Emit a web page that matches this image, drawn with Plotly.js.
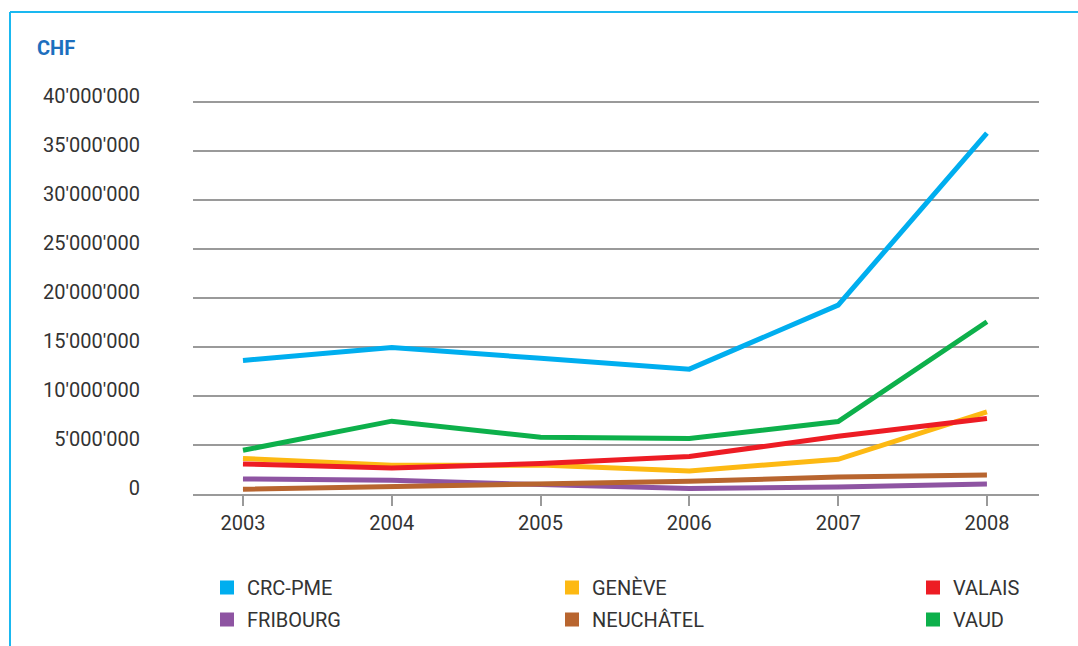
<!DOCTYPE html>
<html>
<head>
<meta charset="utf-8">
<script src="https://cdn.plot.ly/plotly-3.0.1.min.js"></script>
<style>html,body{margin:0;padding:0;background:#fff;}#chart{width:1078px;height:646px;}</style>
</head>
<body>
<div id="chart"></div>
<script>
// ---- data (CHF) ----
const years = [2003, 2004, 2005, 2006, 2007, 2008];
const yearLabels = ["2003", "2004", "2005", "2006", "2007", "2008"];
const crcPme    = [13630000, 14950000, 13840000, 12740000, 19270000, 36810000];
const geneve    = [3620000, 2930000, 2950000, 2350000, 3540000, 8380000];
const valais    = [3060000, 2660000, 3100000, 3820000, 5890000, 7700000];
const fribourg  = [1530000, 1400000, 960000, 550000, 720000, 1020000];
const neuchatel = [480000, 720000, 960000, 1300000, 1730000, 1930000];
const vaud      = [4460000, 7430000, 5790000, 5660000, 7400000, 17570000];

const seriesNames = ["CRC-PME", "GENÈVE", "VALAIS", "FRIBOURG", "NEUCHÂTEL", "VAUD"];
const seriesValues = [crcPme, geneve, valais, fribourg, neuchatel, vaud];
const seriesColors = ["#00aeef", "#fdb913", "#ed1c24", "#8e54a2", "#b8652f", "#0db04b"];
const seriesLegend = ["legend", "legend2", "legend3", "legend", "legend2", "legend3"];

const traces = [];
seriesNames.forEach((name, i) => {
  traces.push({
    x: years, y: seriesValues[i], name: name, type: "scatter", mode: "lines",
    line: {color: seriesColors[i], width: 5},
    legendgroup: "g" + i, showlegend: false, hoverinfo: "x+y+name"
  });
});
seriesNames.forEach((name, i) => {
  traces.push({
    x: years, y: seriesValues[i], name: name, type: "scatter", mode: "markers",
    marker: {symbol: "square", size: 0.01, color: seriesColors[i], line: {width: 1, color: seriesColors[i]}},
    legendgroup: "g" + i, legend: seriesLegend[i], showlegend: true, hoverinfo: "skip"
  });
});

const legendFont = {family: "Liberation Sans Narrow, Arial Narrow, Roboto, sans-serif", size: 20, color: "#333333"};
function mkLegend(xpx) {
  return {
    xref: "container", yref: "container",
    x: xpx / 1078, y: 1 - 568 / 646, xanchor: "left", yanchor: "top",
    orientation: "v", font: legendFont, bgcolor: "rgba(0,0,0,0)", borderwidth: 0,
    itemsizing: "constant", tracegroupgap: 3, itemclick: false, itemdoubleclick: false
  };
}

const L = 193, R = 1039, T = 99, B = 494;
const px2x = p => (p - L) / (R - L);
const px2y = p => (B - p) / (B - T);
const borderColor = "#1ab8f0";

const layout = {
  width: 1078, height: 646,
  margin: {l: L, r: 1078 - R, t: T, b: 646 - B, pad: 0, autoexpand: false},
  paper_bgcolor: "#ffffff", plot_bgcolor: "#ffffff",
  separators: ".'",
  title: {
    text: "<b>CHF</b>", xref: "container", yref: "container",
    x: 37 / 1078, xanchor: "left", y: 1 - 48 / 646, yanchor: "middle",
    font: {family: "Roboto, sans-serif", size: 20, color: "#1d6fbe"}
  },
  xaxis: {
    range: [2002.664, 2008.35], tickvals: years, ticktext: yearLabels, tickangle: 0,
    showgrid: false, zeroline: false, showline: true, linecolor: "#9a9a9a", linewidth: 2,
    ticks: "outside", ticklen: 10, tickwidth: 2, tickcolor: "#9a9a9a",
    tickfont: {family: "Liberation Sans Narrow, Arial Narrow, Roboto, sans-serif", size: 20, color: "#333333"},
    fixedrange: true, automargin: false
  },
  yaxis: {
    range: [0, 40300000], dtick: 5000000, tick0: 0, tickformat: ",d",
    showgrid: true, gridcolor: "#9a9a9a", gridwidth: 2, zeroline: false, showline: false,
    ticks: "", ticklabelstandoff: 52, ticklabelshift: -6,
    tickfont: {family: "Roboto, sans-serif", size: 20, color: "#333333"},
    fixedrange: true, automargin: false
  },
  legend: mkLegend(207),
  legend2: mkLegend(552),
  legend3: mkLegend(913),
  shapes: [
    {type: "line", xref: "paper", yref: "paper", x0: px2x(10), x1: px2x(1080), y0: px2y(12), y1: px2y(12), line: {color: borderColor, width: 2}},
    {type: "line", xref: "paper", yref: "paper", x0: px2x(10), x1: px2x(10), y0: px2y(12), y1: px2y(648), line: {color: borderColor, width: 2}}
  ],
  showlegend: true
};

Plotly.newPlot("chart", traces, layout, {displayModeBar: false});
</script>
</body>
</html>
